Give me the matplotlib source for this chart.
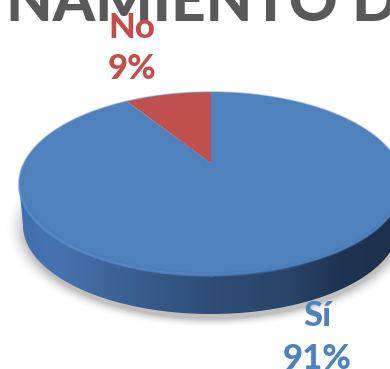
import numpy as np
import matplotlib
matplotlib.use('Agg')
import matplotlib.pyplot as plt
from matplotlib.collections import LineCollection
from matplotlib.patches import Polygon

# Data
categories = ['Sí', 'No']
percents = [91, 9]
colors = ['#4F81BD', '#C0504D']
title_text = 'NAMIENTO D'

# pie geometry in pixels, the disk is tilted so a small perspective is used
cx, cy = 211, 163
a, b, k = 187, 86.9, 0.224


def project(theta, r=1.0):
    # theta is clockwise from 12 o'clock
    u = r * np.sin(theta)
    v = r * np.cos(theta)
    w = 1 + k * v
    return cx + a * u / w, cy - b * v / w


W, H = 390, 369
fig = plt.figure(figsize=(W / 100, H / 100), dpi=100)
ax = fig.add_axes([0, 0, 1, 1])
ax.set_xlim(0, W)
ax.set_ylim(H, 0)
ax.axis('off')

yy, xx = np.mgrid[0:H, 0:W]

# soft shadow under the pie
dist = np.sqrt(((xx - cx) / 199.0) ** 2 + ((yy - 228.0) / 96.0) ** 2)
shadow = np.zeros((H, W, 4))
shadow[..., :3] = 0.55
shadow[..., 3] = 0.55 * np.clip((1.04 - dist) / 0.1, 0, 1) ** 2
ax.imshow(shadow, extent=(0, W, H, 0), aspect='auto', zorder=1)

# side of the disk, dark to the right
t = np.linspace(0, 2 * np.pi, 720)
xt, yt = project(t)
lower = np.linspace(np.pi / 2, 3 * np.pi / 2, 300)
xb = cx + 188 * np.sin(lower)
yb = 225 - 89 * np.cos(lower)
side_clip = Polygon(np.column_stack([np.r_[cx + 192, xb, cx - 192], np.r_[184, yb, 184]]),
                    closed=True, transform=ax.transData)
stops_x = [0, 25, 60, 130, 210, 290, 340, 390]
stops_r = [66, 66, 70, 58, 46, 40, 31, 29]
stops_g = [112, 112, 115, 95, 76, 68, 52, 48]
stops_b = [175, 175, 175, 145, 118, 105, 82, 75]
grad = np.zeros((1, W, 3))
grad[0, :, 0] = np.interp(np.arange(W), stops_x, stops_r) / 255
grad[0, :, 1] = np.interp(np.arange(W), stops_x, stops_g) / 255
grad[0, :, 2] = np.interp(np.arange(W), stops_x, stops_b) / 255
side = ax.imshow(grad, extent=(0, W, H, 0), aspect='auto', zorder=2)
side.set_clip_path(side_clip)

# top face slices drawn clockwise, No ends at 12 o'clock
fractions = np.array(percents) / sum(percents)
ends = 2 * np.pi * np.cumsum(fractions)
starts = ends - 2 * np.pi * fractions
for start, end, color in zip(starts, ends, colors):
    th = np.linspace(start, end, 400)
    xs, ys = project(th)
    ax.fill(np.r_[cx, xs], np.r_[cy, ys], color=color, lw=0, zorder=3)

# soft edge and darker bevel on the face
ax.plot(xt, yt, color=colors[0], lw=1.4, alpha=0.3, zorder=3)
xi, yi = project(t, 0.985)
ax.plot(xi[180:540], yi[180:540], color='#3f6fa8', lw=1.5, alpha=0.12, zorder=3)

# light rim on the front edge, thin grey one at the back
theta_rim = np.linspace(np.pi / 2 - 0.1, 3 * np.pi / 2 + 0.1, 200)
xr, yr = project(theta_rim)
pts = np.column_stack([xr, yr + 0.6]).reshape(-1, 1, 2)
segs = np.concatenate([pts[:-1], pts[1:]], axis=1)
alphas = np.clip((theta_rim[:-1] - np.pi * 0.85) / 0.6, 0, 1)
alphas = alphas * np.clip((np.pi * 1.55 - theta_rim[:-1]) / 0.5, 0, 1)
rim_colors = np.zeros((len(segs), 4))
rim_colors[:, :3] = (0.38, 0.58, 0.85)
rim_colors[:, 3] = 0.6 * alphas
ax.add_collection(LineCollection(segs, colors=rim_colors, linewidths=1.6, zorder=4))
ax.plot(xt[:180], yt[:180], color='#8a9bb0', lw=0.5, alpha=0.5, zorder=4)
ax.plot(xt[540:], yt[540:], color='#8a9bb0', lw=0.5, alpha=0.5, zorder=4)

# texts
ax.text(6, 21, title_text, color='#595959', fontsize=43.5, fontweight='black',
        family='Lato', ha='left', va='baseline', zorder=5)
ax.text(132, 38, categories[1], color=colors[1], fontsize=25, fontweight='black',
        family='Lato', ha='center', va='baseline', zorder=6)
ax.text(132, 79, '%d%%' % percents[1], color=colors[1], fontsize=25, fontweight='black',
        family='Lato', ha='center', va='baseline', zorder=6)
ax.text(317, 326, categories[0], color=colors[0], fontsize=25, fontweight='black',
        family='Lato', ha='center', va='baseline', zorder=6)
ax.text(317, 369, '%d%%' % percents[0], color=colors[0], fontsize=25, fontweight='black',
        family='Lato', ha='center', va='baseline', zorder=6)

fig.savefig('out.png', dpi=100)
plt.close()
